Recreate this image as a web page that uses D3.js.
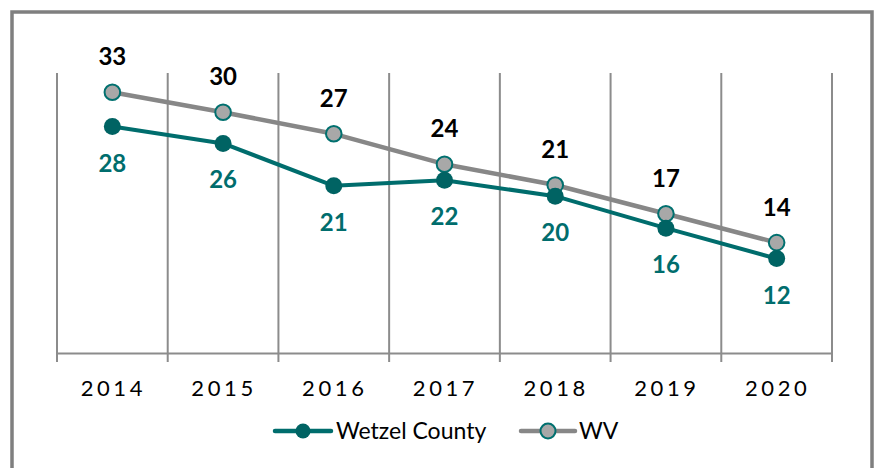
<!DOCTYPE html>
<html>
<head>
<meta charset="utf-8">
<script src="https://cdn.jsdelivr.net/npm/d3@7"></script>
<style>
  html, body { margin: 0; padding: 0; background: #fff; }
  svg { display: block; }
</style>
</head>
<body>
<svg id="chart" width="879" height="468"></svg>
<script>
const years = ["2014", "2015", "2016", "2017", "2018", "2019", "2020"];
const wetzel = [28.3, 26.2, 20.9, 21.6, 19.6, 15.6, 11.8];
const wv = [32.6, 30.1, 27.4, 23.6, 21.0, 17.4, 13.8];
const seriesNames = ["Wetzel County", "WV"];

const svg = d3.select("#chart");
const font = "Lato, 'Open Sans', sans-serif";
const teal = "#006d6d";
const tealDark = "#006363";
const gray = "#878787";

// outer border
svg.append("rect")
  .attr("x", 12).attr("y", 12)
  .attr("width", 860).attr("height", 480)
  .attr("fill", "none").attr("stroke", "#7f7f7f").attr("stroke-width", 3.5);

const x = d3.scaleBand().domain(years).range([57, 832]).padding(0);
const y = d3.scaleLinear().domain([0, 35]).range([353, 73]);

// vertical gridlines at category boundaries
const bounds = years.map(d => x(d)).concat([x.range()[1]]);
svg.append("g").selectAll("line").data(bounds).join("line")
  .attr("x1", d => d).attr("x2", d => d)
  .attr("y1", y(35)).attr("y2", y(0) + 9)
  .attr("stroke", "#8c8c8c").attr("stroke-width", 2);

// x axis
const xAxis = d3.axisBottom(x).tickSize(0).tickPadding(0);
const gx = svg.append("g").attr("transform", `translate(0,${y(0)})`).call(xAxis);
gx.select(".domain").attr("stroke", "#8c8c8c").attr("stroke-width", 2);
gx.selectAll(".tick text")
  .attr("y", 0).attr("dy", 0)
  .attr("transform", "translate(1,43)")
  .attr("font-family", font).attr("font-size", 22)
  .attr("letter-spacing", "3.6px")
  .attr("fill", "#000");

const line = d3.line().x((d, i) => x(years[i]) + x.bandwidth() / 2).y(d => y(d));

// WV line
svg.append("path").datum(wv).attr("d", line)
  .attr("fill", "none").attr("stroke", gray).attr("stroke-width", 4.5)
  .attr("stroke-linejoin", "round");
// Wetzel line
svg.append("path").datum(wetzel).attr("d", line)
  .attr("fill", "none").attr("stroke", teal).attr("stroke-width", 4)
  .attr("stroke-linejoin", "round");

// WV markers
svg.append("g").selectAll("circle").data(wv).join("circle")
  .attr("cx", (d, i) => x(years[i]) + x.bandwidth() / 2)
  .attr("cy", d => y(d)).attr("r", 7.8)
  .attr("fill", "#a8a8a8").attr("stroke", "#00706f").attr("stroke-width", 2);
// Wetzel markers
svg.append("g").selectAll("circle").data(wetzel).join("circle")
  .attr("cx", (d, i) => x(years[i]) + x.bandwidth() / 2)
  .attr("cy", d => y(d)).attr("r", 8.5)
  .attr("fill", tealDark);

const fmt = d3.format(".0f");
// WV labels (above)
svg.append("g").selectAll("text").data(wv).join("text")
  .attr("x", (d, i) => x(years[i]) + x.bandwidth() / 2)
  .attr("y", d => y(d) - 27)
  .attr("text-anchor", "middle")
  .attr("font-family", font).attr("font-weight", "bold").attr("font-size", 24)
  .attr("fill", "#000").text(d => fmt(d));
// Wetzel labels (below)
svg.append("g").selectAll("text").data(wetzel).join("text")
  .attr("x", (d, i) => x(years[i]) + x.bandwidth() / 2)
  .attr("y", d => y(d) + 45)
  .attr("text-anchor", "middle")
  .attr("font-family", font).attr("font-weight", "bold").attr("font-size", 24)
  .attr("fill", teal).text(d => fmt(d));

// legend
const legend = [
  {name: seriesNames[0], x0: 275, x1: 331, lc: teal, mf: tealDark, ms: "none", tx: 336},
  {name: seriesNames[1], x0: 521, x1: 575, lc: gray, mf: "#a8a8a8", ms: "#00706f", tx: 579}
];
const lg = svg.append("g").selectAll("g").data(legend).join("g");
lg.append("line")
  .attr("x1", d => d.x0).attr("x2", d => d.x1).attr("y1", 431).attr("y2", 431)
  .attr("stroke", d => d.lc).attr("stroke-width", 4.5).attr("stroke-linecap", "round");
lg.append("circle")
  .attr("cx", d => (d.x0 + d.x1) / 2).attr("cy", 431).attr("r", 7.5)
  .attr("fill", d => d.mf).attr("stroke", d => d.ms).attr("stroke-width", 2);
lg.append("text")
  .attr("x", d => d.tx).attr("y", 439)
  .attr("font-family", font).attr("font-size", 23).attr("fill", "#000")
  .text(d => d.name);
</script>
</body>
</html>
